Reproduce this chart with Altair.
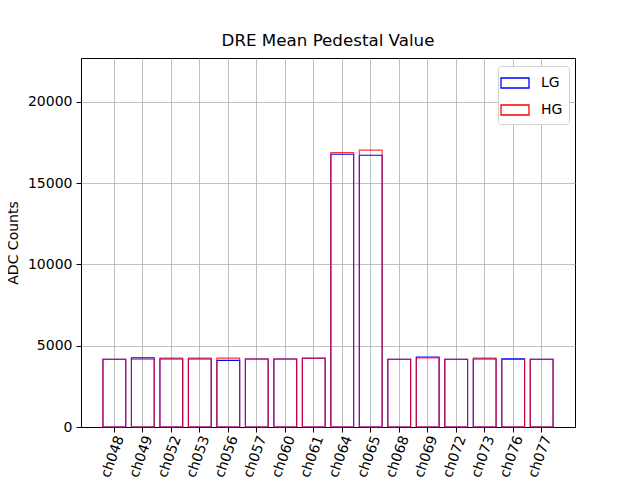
import altair as alt
import pandas as pd

channels = ["ch048", "ch049", "ch052", "ch053", "ch056", "ch057", "ch060", "ch061",
            "ch064", "ch065", "ch068", "ch069", "ch072", "ch073", "ch076", "ch077"]
lg_values = [4170, 4250, 4180, 4180, 4100, 4180, 4180, 4230,
             16780, 16720, 4170, 4310, 4170, 4180, 4190, 4170]
hg_values = [4170, 4170, 4240, 4240, 4240, 4180, 4180, 4240,
             16880, 17030, 4170, 4250, 4170, 4240, 4150, 4170]
series = ["LG", "HG"]
y_ticks = [0, 5000, 10000, 15000, 20000]

rows = []
for name, vals in zip(series, [lg_values, hg_values]):
    for ch, v in zip(channels, vals):
        rows.append({"channel": ch, "value": v, "gain": name})
df = pd.DataFrame(rows)

FONT = "DejaVu Sans"

chart = alt.Chart(df).mark_bar(filled=False, strokeWidth=1.1).encode(
    x=alt.X("channel:N", sort=channels,
            scale=alt.Scale(paddingInner=0.2, paddingOuter=0.77),
            axis=alt.Axis(title=None, labelAngle=-70, labelAlign="right",
                          labelBaseline="middle", labelFontSize=14, labelFont=FONT,
                          labelColor="black", tickColor="black", tickSize=5,
                          domainColor="black", labelPadding=4, labelOffset=6,
                          grid=True, gridColor="#b0b0b0", gridWidth=0.8)),
    y=alt.Y("value:Q", stack=None, scale=alt.Scale(domain=[0, 22700], nice=False),
            axis=alt.Axis(title="ADC Counts", values=y_ticks, format="d",
                          labelFontSize=14, labelFont=FONT, labelColor="black",
                          titleFontSize=14, titleFont=FONT, titleFontWeight="normal",
                          titleColor="black", titlePadding=7,
                          tickColor="black", tickSize=5, domainColor="black",
                          labelPadding=4,
                          grid=True, gridColor="#b0b0b0", gridWidth=0.8)),
    stroke=alt.Stroke("gain:N", sort=series,
                      scale=alt.Scale(domain=series, range=["blue", "red"]),
                      legend=alt.Legend(title=None, orient="none", legendX=417, legendY=8,
                                        symbolType="M-1.4,-0.5H1.4V0.5H-1.4Z",
                                        symbolSize=400, symbolStrokeWidth=1.3,
                                        symbolFillColor="transparent",
                                        labelFontSize=14, labelFont=FONT, labelColor="black",
                                        rowPadding=8, padding=6, labelOffset=15,
                                        strokeColor="#d0d0d0", fillColor="white",
                                        cornerRadius=3)),
    strokeOpacity=alt.StrokeOpacity("gain:N", scale=alt.Scale(domain=series, range=[1, 0.8]),
                                    legend=None),
    order=alt.Order("gain:N", sort="descending"),
).properties(
    width=494, height=369,
    title=alt.TitleParams("DRE Mean Pedestal Value", fontSize=16.7, font=FONT,
                          fontWeight="normal", color="black", offset=8),
    autosize=alt.AutoSizeParams(type="none"),
    padding={"left": 73, "top": 50, "right": 57, "bottom": 70},
).configure_view(stroke="black", strokeWidth=1)

chart.save("out.html", embed_options={"renderer": "svg", "actions": False})
